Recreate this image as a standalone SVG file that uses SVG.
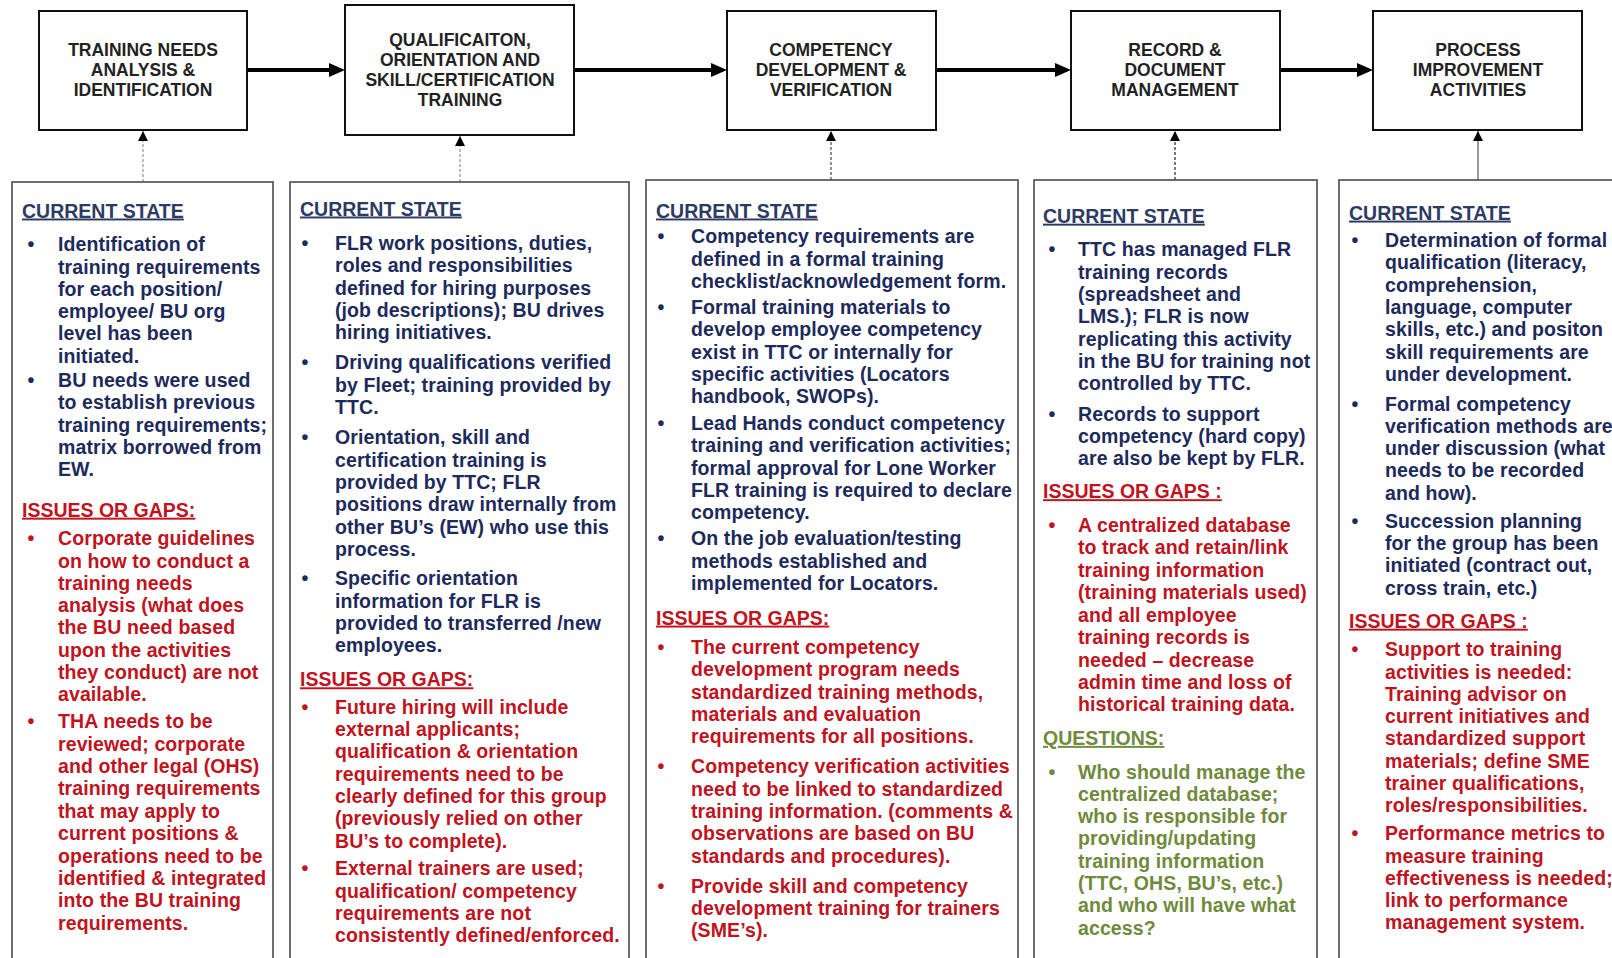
<svg xmlns="http://www.w3.org/2000/svg" width="1612" height="958" viewBox="0 0 1612 958">
<style>
text{font-family:"Liberation Sans",Arial,sans-serif;font-weight:bold}
.tb{fill:#fff;stroke:#111;stroke-width:2}
.lb{fill:#fff;stroke:#4a4a4a;stroke-width:1.6}
.tt{font-size:17.5px;fill:#222;text-anchor:middle}
.bd{font-size:19.5px;letter-spacing:0.1px}
.hd{font-size:19.5px;text-decoration:underline}
.nv{fill:#1d2a5c}
.hn{fill:#2c3b63}
.rd{fill:#c0131d}
.gr{fill:#6f8a3b}
.bu{text-anchor:middle}
.thick{stroke:#000;stroke-width:4;fill:none}
</style>
<defs>
<marker id="ah" viewBox="0 0 16 14" refX="11" refY="7" markerWidth="16" markerHeight="14" markerUnits="userSpaceOnUse" orient="auto"><path d="M0,0 L16,7 L0,14 z" fill="#000"/></marker>
<marker id="av" viewBox="0 0 10 10" refX="10" refY="5" markerWidth="10" markerHeight="10" markerUnits="userSpaceOnUse" orient="auto"><path d="M0,0 L10,5 L0,10 z" fill="#000"/></marker>
</defs>
<rect width="1612" height="958" fill="#fff"/>

<g id="connectors">
<line class="thick" x1="247" y1="70" x2="340" y2="70" marker-end="url(#ah)"/>
<line class="thick" x1="574" y1="70" x2="722" y2="70" marker-end="url(#ah)"/>
<line class="thick" x1="936" y1="70" x2="1066" y2="70" marker-end="url(#ah)"/>
<line class="thick" x1="1280" y1="70" x2="1368" y2="70" marker-end="url(#ah)"/>
<line x1="143" y1="182" x2="143" y2="131" stroke="#9a9a9a" stroke-width="1.3" stroke-dasharray="3,2" marker-end="url(#av)"/>
<line x1="460" y1="182" x2="460" y2="136" stroke="#9a9a9a" stroke-width="1.3" stroke-dasharray="3,2" marker-end="url(#av)"/>
<line x1="831" y1="180" x2="831" y2="131" stroke="#555" stroke-width="1.3" stroke-dasharray="3,2" marker-end="url(#av)"/>
<line x1="1175" y1="180" x2="1175" y2="131" stroke="#444" stroke-width="1.4" stroke-dasharray="3,2" marker-end="url(#av)"/>
<line x1="1478" y1="180" x2="1478" y2="131" stroke="#555" stroke-width="1.2" marker-end="url(#av)"/>
</g>

<g id="top1">
<rect class="tb" x="39" y="11" width="208" height="119"/>
<text class="tt"><tspan x="143" y="56">TRAINING NEEDS</tspan><tspan x="143" y="76">ANALYSIS &amp;</tspan><tspan x="143" y="96">IDENTIFICATION</tspan></text>
</g>
<g id="top2">
<rect class="tb" x="345" y="5" width="229" height="130"/>
<text class="tt"><tspan x="460" y="46">QUALIFICAITON,</tspan><tspan x="460" y="66">ORIENTATION AND</tspan><tspan x="460" y="86">SKILL/CERTIFICATION</tspan><tspan x="460" y="106">TRAINING</tspan></text>
</g>
<g id="top3">
<rect class="tb" x="727" y="11" width="209" height="119"/>
<text class="tt"><tspan x="831" y="56">COMPETENCY</tspan><tspan x="831" y="76">DEVELOPMENT &amp;</tspan><tspan x="831" y="96">VERIFICATION</tspan></text>
</g>
<g id="top4">
<rect class="tb" x="1071" y="11" width="209" height="119"/>
<text class="tt"><tspan x="1175" y="56">RECORD &amp;</tspan><tspan x="1175" y="76">DOCUMENT</tspan><tspan x="1175" y="96">MANAGEMENT</tspan></text>
</g>
<g id="top5">
<rect class="tb" x="1373" y="11" width="209" height="119"/>
<text class="tt"><tspan x="1478" y="56">PROCESS</tspan><tspan x="1478" y="76">IMPROVEMENT</tspan><tspan x="1478" y="96">ACTIVITIES</tspan></text>
</g>

<g id="box1">
<rect class="lb" x="12" y="182" width="261" height="800"/>
<text class="hd hn" x="22" y="217.5">CURRENT STATE</text>
<text class="bd nv bu" x="31" y="251.2">•</text>
<text class="bd nv"><tspan x="58" y="251.2">Identification of</tspan><tspan x="58" dy="22.3">training requirements</tspan><tspan x="58" dy="22.3">for each position/</tspan><tspan x="58" dy="22.3">employee/ BU org</tspan><tspan x="58" dy="22.3">level has been</tspan><tspan x="58" dy="22.3">initiated.</tspan></text>
<text class="bd nv bu" x="31" y="386.9">•</text>
<text class="bd nv"><tspan x="58" y="386.9">BU needs were used</tspan><tspan x="58" dy="22.3">to establish previous</tspan><tspan x="58" dy="22.3">training requirements;</tspan><tspan x="58" dy="22.3">matrix borrowed from</tspan><tspan x="58" dy="22.3">EW.</tspan></text>
<text class="hd rd" x="22" y="516.7">ISSUES OR GAPS:</text>
<text class="bd rd bu" x="31" y="545.2">•</text>
<text class="bd rd"><tspan x="58" y="545.2">Corporate guidelines</tspan><tspan x="58" dy="22.3">on how to conduct a</tspan><tspan x="58" dy="22.3">training needs</tspan><tspan x="58" dy="22.3">analysis (what does</tspan><tspan x="58" dy="22.3">the BU need based</tspan><tspan x="58" dy="22.3">upon the activities</tspan><tspan x="58" dy="22.3">they conduct) are not</tspan><tspan x="58" dy="22.3">available.</tspan></text>
<text class="bd rd bu" x="31" y="728.2">•</text>
<text class="bd rd"><tspan x="58" y="728.2">THA needs to be</tspan><tspan x="58" dy="22.4">reviewed; corporate</tspan><tspan x="58" dy="22.4">and other legal (OHS)</tspan><tspan x="58" dy="22.4">training requirements</tspan><tspan x="58" dy="22.4">that may apply to</tspan><tspan x="58" dy="22.4">current positions &amp;</tspan><tspan x="58" dy="22.4">operations need to be</tspan><tspan x="58" dy="22.4">identified &amp; integrated</tspan><tspan x="58" dy="22.4">into the BU training</tspan><tspan x="58" dy="22.4">requirements.</tspan></text>
</g>

<g id="box2">
<rect class="lb" x="290" y="182" width="339" height="800"/>
<text class="hd hn" x="300" y="215.5">CURRENT STATE</text>
<text class="bd nv bu" x="305" y="250.1">•</text>
<text class="bd nv"><tspan x="335" y="250.1">FLR work positions, duties,</tspan><tspan x="335" dy="22.3">roles and responsibilities</tspan><tspan x="335" dy="22.3">defined for hiring purposes</tspan><tspan x="335" dy="22.3">(job descriptions); BU drives</tspan><tspan x="335" dy="22.3">hiring initiatives.</tspan></text>
<text class="bd nv bu" x="305" y="369.4">•</text>
<text class="bd nv"><tspan x="335" y="369.4">Driving qualifications verified</tspan><tspan x="335" dy="22.3">by Fleet; training provided by</tspan><tspan x="335" dy="22.3">TTC.</tspan></text>
<text class="bd nv bu" x="305" y="444.4">•</text>
<text class="bd nv"><tspan x="335" y="444.4">Orientation, skill and</tspan><tspan x="335" dy="22.3">certification training is</tspan><tspan x="335" dy="22.3">provided by TTC; FLR</tspan><tspan x="335" dy="22.3">positions draw internally from</tspan><tspan x="335" dy="22.3">other BU’s (EW) who use this</tspan><tspan x="335" dy="22.3">process.</tspan></text>
<text class="bd nv bu" x="305" y="585.3">•</text>
<text class="bd nv"><tspan x="335" y="585.3">Specific orientation</tspan><tspan x="335" dy="22.3">information for FLR is</tspan><tspan x="335" dy="22.3">provided to transferred /new</tspan><tspan x="335" dy="22.3">employees.</tspan></text>
<text class="hd rd" x="300" y="686.3">ISSUES OR GAPS:</text>
<text class="bd rd bu" x="305" y="713.8">•</text>
<text class="bd rd"><tspan x="335" y="713.8">Future hiring will include</tspan><tspan x="335" dy="22.3">external applicants;</tspan><tspan x="335" dy="22.3">qualification &amp; orientation</tspan><tspan x="335" dy="22.3">requirements need to be</tspan><tspan x="335" dy="22.3">clearly defined for this group</tspan><tspan x="335" dy="22.3">(previously relied on other</tspan><tspan x="335" dy="22.3">BU’s to complete).</tspan></text>
<text class="bd rd bu" x="305" y="875.2">•</text>
<text class="bd rd"><tspan x="335" y="875.2">External trainers are used;</tspan><tspan x="335" dy="22.3">qualification/ competency</tspan><tspan x="335" dy="22.3">requirements are not</tspan><tspan x="335" dy="22.3">consistently defined/enforced.</tspan></text>
</g>

<g id="box3">
<rect class="lb" x="646" y="180" width="372" height="800"/>
<text class="hd hn" x="656" y="217.5">CURRENT STATE</text>
<text class="bd nv bu" x="661" y="243.2">•</text>
<text class="bd nv"><tspan x="691" y="243.2">Competency requirements are</tspan><tspan x="691" dy="22.3">defined in a formal training</tspan><tspan x="691" dy="22.3">checklist/acknowledgement form.</tspan></text>
<text class="bd nv bu" x="661" y="313.9">•</text>
<text class="bd nv"><tspan x="691" y="313.9">Formal training materials to</tspan><tspan x="691" dy="22.3">develop employee competency</tspan><tspan x="691" dy="22.3">exist in TTC or internally for</tspan><tspan x="691" dy="22.3">specific activities (Locators</tspan><tspan x="691" dy="22.3">handbook, SWOPs).</tspan></text>
<text class="bd nv bu" x="661" y="430">•</text>
<text class="bd nv"><tspan x="691" y="430">Lead Hands conduct competency</tspan><tspan x="691" dy="22.3">training and verification activities;</tspan><tspan x="691" dy="22.3">formal approval for Lone Worker</tspan><tspan x="691" dy="22.3">FLR training is required to declare</tspan><tspan x="691" dy="22.3">competency.</tspan></text>
<text class="bd nv bu" x="661" y="545.2">•</text>
<text class="bd nv"><tspan x="691" y="545.2">On the job evaluation/testing</tspan><tspan x="691" dy="22.3">methods established and</tspan><tspan x="691" dy="22.3">implemented for Locators.</tspan></text>
<text class="hd rd" x="656" y="624.6">ISSUES OR GAPS:</text>
<text class="bd rd bu" x="661" y="654.1">•</text>
<text class="bd rd"><tspan x="691" y="654.1">The current competency</tspan><tspan x="691" dy="22.3">development program needs</tspan><tspan x="691" dy="22.3">standardized training methods,</tspan><tspan x="691" dy="22.3">materials and evaluation</tspan><tspan x="691" dy="22.3">requirements for all positions.</tspan></text>
<text class="bd rd bu" x="661" y="773.4">•</text>
<text class="bd rd"><tspan x="691" y="773.4">Competency verification activities</tspan><tspan x="691" dy="22.3">need to be linked to standardized</tspan><tspan x="691" dy="22.3">training information. (comments &amp;</tspan><tspan x="691" dy="22.3">observations are based on BU</tspan><tspan x="691" dy="22.3">standards and procedures).</tspan></text>
<text class="bd rd bu" x="661" y="892.6">•</text>
<text class="bd rd"><tspan x="691" y="892.6">Provide skill and competency</tspan><tspan x="691" dy="22.3">development training for trainers</tspan><tspan x="691" dy="22.3">(SME’s).</tspan></text>
</g>

<g id="box4">
<rect class="lb" x="1034" y="180" width="283" height="800"/>
<text class="hd hn" x="1043" y="222.7">CURRENT STATE</text>
<text class="bd nv bu" x="1052" y="256.3">•</text>
<text class="bd nv"><tspan x="1078" y="256.3">TTC has managed FLR</tspan><tspan x="1078" dy="22.3">training records</tspan><tspan x="1078" dy="22.3">(spreadsheet and</tspan><tspan x="1078" dy="22.3">LMS.); FLR is now</tspan><tspan x="1078" dy="22.3">replicating this activity</tspan><tspan x="1078" dy="22.3">in the BU for training not</tspan><tspan x="1078" dy="22.3">controlled by TTC.</tspan></text>
<text class="bd nv bu" x="1052" y="420.8">•</text>
<text class="bd nv"><tspan x="1078" y="420.8">Records to support</tspan><tspan x="1078" dy="22.3">competency (hard copy)</tspan><tspan x="1078" dy="22.3">are also be kept by FLR.</tspan></text>
<text class="hd rd" x="1043" y="498.2">ISSUES OR GAPS :</text>
<text class="bd rd bu" x="1052" y="531.8">•</text>
<text class="bd rd"><tspan x="1078" y="531.8">A centralized database</tspan><tspan x="1078" dy="22.45">to track and retain/link</tspan><tspan x="1078" dy="22.45">training information</tspan><tspan x="1078" dy="22.45">(training materials used)</tspan><tspan x="1078" dy="22.45">and all employee</tspan><tspan x="1078" dy="22.45">training records is</tspan><tspan x="1078" dy="22.45">needed – decrease</tspan><tspan x="1078" dy="22.45">admin time and loss of</tspan><tspan x="1078" dy="22.45">historical training data.</tspan></text>
<text class="hd gr" x="1043" y="744.9">QUESTIONS:</text>
<text class="bd gr bu" x="1052" y="778.5">•</text>
<text class="bd gr"><tspan x="1078" y="778.5">Who should manage the</tspan><tspan x="1078" dy="22.3">centralized database;</tspan><tspan x="1078" dy="22.3">who is responsible for</tspan><tspan x="1078" dy="22.3">providing/updating</tspan><tspan x="1078" dy="22.3">training information</tspan><tspan x="1078" dy="22.3">(TTC, OHS, BU’s, etc.)</tspan><tspan x="1078" dy="22.3">and who will have what</tspan><tspan x="1078" dy="22.3">access?</tspan></text>
</g>

<g id="box5">
<rect class="lb" x="1339" y="180" width="300" height="800"/>
<text class="hd hn" x="1349" y="219.6">CURRENT STATE</text>
<text class="bd nv bu" x="1355" y="247.1">•</text>
<text class="bd nv"><tspan x="1385" y="247.1">Determination of formal</tspan><tspan x="1385" dy="22.3">qualification (literacy,</tspan><tspan x="1385" dy="22.3">comprehension,</tspan><tspan x="1385" dy="22.3">language, computer</tspan><tspan x="1385" dy="22.3">skills, etc.) and positon</tspan><tspan x="1385" dy="22.3">skill requirements are</tspan><tspan x="1385" dy="22.3">under development.</tspan></text>
<text class="bd nv bu" x="1355" y="410.5">•</text>
<text class="bd nv"><tspan x="1385" y="410.5">Formal competency</tspan><tspan x="1385" dy="22.3">verification methods are</tspan><tspan x="1385" dy="22.3">under discussion (what</tspan><tspan x="1385" dy="22.3">needs to be recorded</tspan><tspan x="1385" dy="22.3">and how).</tspan></text>
<text class="bd nv bu" x="1355" y="527.7">•</text>
<text class="bd nv"><tspan x="1385" y="527.7">Succession planning</tspan><tspan x="1385" dy="22.3">for the group has been</tspan><tspan x="1385" dy="22.3">initiated (contract out,</tspan><tspan x="1385" dy="22.3">cross train, etc.)</tspan></text>
<text class="hd rd" x="1349" y="627.7">ISSUES OR GAPS :</text>
<text class="bd rd bu" x="1355" y="656.2">•</text>
<text class="bd rd"><tspan x="1385" y="656.2">Support to training</tspan><tspan x="1385" dy="22.3">activities is needed:</tspan><tspan x="1385" dy="22.3">Training advisor on</tspan><tspan x="1385" dy="22.3">current initiatives and</tspan><tspan x="1385" dy="22.3">standardized support</tspan><tspan x="1385" dy="22.3">materials; define SME</tspan><tspan x="1385" dy="22.3">trainer qualifications,</tspan><tspan x="1385" dy="22.3">roles/responsibilities.</tspan></text>
<text class="bd rd bu" x="1355" y="840.2">•</text>
<text class="bd rd"><tspan x="1385" y="840.2">Performance metrics to</tspan><tspan x="1385" dy="22.3">measure training</tspan><tspan x="1385" dy="22.3">effectiveness is needed;</tspan><tspan x="1385" dy="22.3">link to performance</tspan><tspan x="1385" dy="22.3">management system.</tspan></text>
</g>
</svg>
